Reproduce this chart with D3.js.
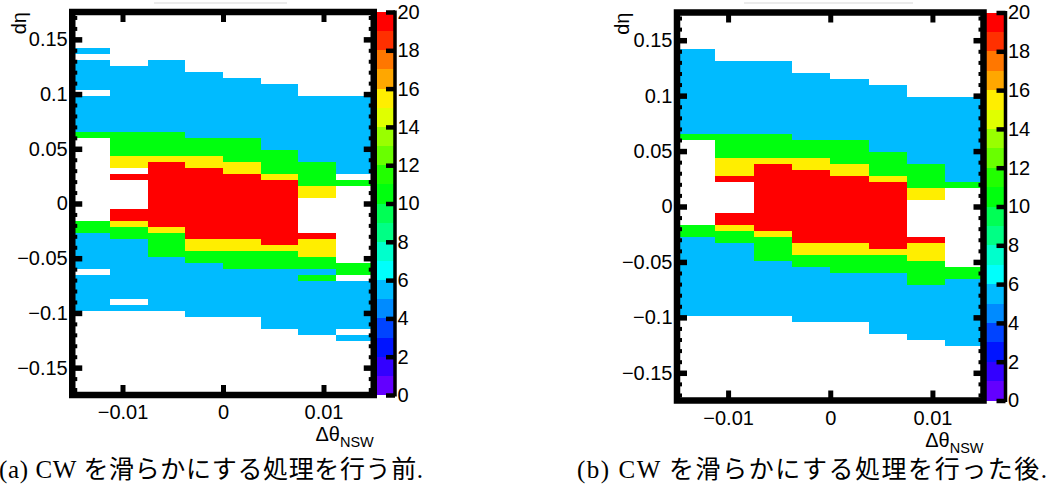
<!DOCTYPE html>
<html>
<head>
<meta charset="utf-8">
<script src="https://cdn.jsdelivr.net/npm/d3@7"></script>
<style>
  body { margin: 0; background: #fff; }
  svg { display: block; }
  .tick text { font-family: "Liberation Sans", Arial, sans-serif; font-size: 20px; fill: #000; }
</style>
</head>
<body>
<svg id="fig" width="1061" height="488"></svg>
<script>
// Δθ_NSW bin edges (8 bins)
const thetaEdges = [-0.015, -0.01125, -0.0075, -0.00375, 0, 0.00375, 0.0075, 0.01125, 0.015];
// dη axis: 64 bins over [-0.175, 0.175]; bin n covers [n*w, (n+1)*w]
const etaMin = -0.175, etaMax = 0.175, etaBins = 64;
// z (CW content) range and number of contour levels
const zMin = 0, zMax = 20, nLevels = 20;

const xTicks = [-0.01, 0, 0.01];
const xTickLabels = ["\u22120.01", "0", "0.01"];
const yTicks = [-0.15, -0.1, -0.05, 0, 0.05, 0.1, 0.15];
const yTickLabels = ["\u22120.15", "\u22120.1", "\u22120.05", "0", "0.05", "0.1", "0.15"];
const yMinorTicks = d3.range(-17, 18).map(v => v / 100);
const zTicks = [0, 2, 4, 6, 8, 10, 12, 14, 16, 18, 20];

// Runs of filled dη bins for each Δθ bin: [firstBin, lastBin, value]
const cwBefore = [
  [[25, 25, 5], [19, 23, 5], [12, 17, 5], [11, 11, 10], [-5, -4, 10], [-11, -6, 5], [-18, -13, 5]],
  [[12, 22, 5], [8, 11, 10], [6, 7, 15], [4, 4, 20], [-3, -2, 20], [-4, -4, 15], [-6, -5, 10], [-16, -7, 5], [-18, -18, 5]],
  [[12, 23, 5], [8, 11, 10], [7, 7, 15], [-4, 6, 20], [-5, -5, 15], [-9, -6, 10], [-18, -10, 5]],
  [[11, 21, 5], [8, 10, 10], [6, 7, 15], [-6, 5, 20], [-8, -7, 15], [-10, -9, 10], [-19, -11, 5]],
  [[11, 20, 5], [7, 10, 10], [5, 6, 15], [-6, 4, 20], [-8, -7, 15], [-11, -9, 10], [-19, -12, 5]],
  [[9, 19, 5], [5, 8, 10], [4, 4, 15], [-7, 3, 20], [-8, -8, 15], [-11, -9, 10], [-21, -12, 5]],
  [[7, 17, 5], [3, 6, 10], [1, 2, 15], [-6, -6, 20], [-9, -7, 15], [-11, -10, 10], [-12, -12, 5], [-13, -13, 10], [-22, -14, 5]],
  [[5, 17, 5], [3, 3, 10], [-12, -11, 10], [-21, -14, 5], [-23, -23, 5]]
];

const cwAfter = [
  [[12, 25, 5], [11, 11, 10], [-5, -4, 10], [-18, -6, 5]],
  [[12, 23, 5], [8, 11, 10], [5, 7, 15], [4, 4, 20], [-3, -2, 20], [-4, -4, 15], [-6, -5, 10], [-18, -7, 5]],
  [[12, 23, 5], [8, 11, 10], [7, 7, 15], [-4, 6, 20], [-5, -5, 15], [-9, -6, 10], [-18, -10, 5]],
  [[11, 21, 5], [8, 10, 10], [6, 7, 15], [-6, 5, 20], [-8, -7, 15], [-10, -9, 10], [-19, -11, 5]],
  [[11, 20, 5], [7, 10, 10], [5, 6, 15], [-6, 4, 20], [-8, -7, 15], [-11, -9, 10], [-19, -12, 5]],
  [[9, 19, 5], [5, 8, 10], [4, 4, 15], [-7, 3, 20], [-8, -8, 15], [-11, -9, 10], [-21, -12, 5]],
  [[7, 17, 5], [3, 6, 10], [1, 2, 15], [-6, -6, 20], [-9, -7, 15], [-13, -10, 10], [-22, -14, 5]],
  [[4, 17, 5], [3, 3, 10], [-12, -11, 10], [-23, -13, 5]]
];

const captions = [
  "(a) CW \u3092\u6ed1\u3089\u304b\u306b\u3059\u308b\u51e6\u7406\u3092\u884c\u3046\u524d.",
  "(b) CW \u3092\u6ed1\u3089\u304b\u306b\u3059\u308b\u51e6\u7406\u3092\u884c\u3063\u305f\u5f8c."
];

// 50-step rainbow palette (violet -> red) sampled at the contour levels
const palette = d3.range(nLevels).map(j => {
  const idx = Math.floor((j + 0.99) * 50 / nLevels);
  return d3.hsl(280 - (idx + 1) * 5.6, 1, 0.5).formatHex();
});
const zColor = d3.scaleQuantize().domain([zMin, zMax]).range(palette);

const svg = d3.select("#fig");
const sansFont = '"Liberation Sans", Arial, sans-serif';

const panels = [
  { runs: cwBefore, caption: captions[0], x0: 72.25, x1: 373.75, yTop: 12, yBot: 395,
    cb0: 375.5, cb1: 395, titleY: 441, etaX: 26, capX: -1, capW: 424, greyA: 154, greyB: 287 },
  { runs: cwAfter, caption: captions[1], x0: 677, x1: 983.5, yTop: 12.5, yBot: 400.5,
    cb0: 986, cb1: 1005.5, titleY: 447, etaX: 629, capX: 577, capW: 470, greyA: 744, greyB: 913 }
];

function styleTicks(sel, width) {
  sel.select(".domain").remove();
  sel.selectAll(".tick line").attr("stroke", "#000").attr("stroke-width", width);
}

panels.forEach(P => {
  const g = svg.append("g");
  const x = d3.scaleLinear().domain([thetaEdges[0], thetaEdges[thetaEdges.length - 1]]).range([P.x0, P.x1]);
  const y = d3.scaleLinear().domain([etaMin, etaMax]).range([P.yBot, P.yTop]);
  const binW = (etaMax - etaMin) / etaBins;

  // faint strip above the pad
  g.append("rect").attr("x", P.greyA).attr("y", 2).attr("width", P.greyB - P.greyA).attr("height", 2)
    .attr("fill", "#ebebeb");

  // cells
  const cells = [];
  P.runs.forEach((col, ci) => col.forEach(([b0, b1, v]) => {
    cells.push({ t0: thetaEdges[ci], t1: thetaEdges[ci + 1], e0: b0 * binW, e1: (b1 + 1) * binW, v });
  }));
  g.append("g").attr("shape-rendering", "crispEdges")
    .selectAll("rect").data(cells).join("rect")
    .attr("x", d => x(d.t0))
    .attr("width", d => x(d.t1) - x(d.t0))
    .attr("y", d => y(d.e1))
    .attr("height", d => y(d.e0) - y(d.e1))
    .attr("fill", d => zColor(d.v));

  // colour bar
  const z = d3.scaleLinear().domain([zMin, zMax]).range([P.yBot, P.yTop]);
  const step = (zMax - zMin) / nLevels;
  const levels = d3.range(nLevels).map(j => zMin + j * step);
  g.append("g").attr("shape-rendering", "crispEdges")
    .selectAll("rect").data(levels).join("rect")
    .attr("x", P.cb0).attr("width", P.cb1 - P.cb0)
    .attr("y", d => z(d + step))
    .attr("height", d => z(d) - z(d + step))
    .attr("fill", d => zColor(d + step / 2));
  const zAxis = g.append("g").attr("transform", `translate(${P.cb1},0)`)
    .call(d3.axisRight(z).tickValues(zTicks).tickFormat(d3.format("d"))
      .tickSizeInner(-9).tickSizeOuter(0).tickPadding(3));
  zAxis.select(".domain").remove();
  zAxis.selectAll(".tick line").attr("stroke", "#000").attr("stroke-width", 4.5);
  zAxis.selectAll(".tick text").attr("x", 2.5);
  g.append("line").attr("x1", P.cb1).attr("x2", P.cb1).attr("y1", P.yTop - 1.5).attr("y2", P.yBot + 1.5)
    .attr("stroke", "#000").attr("stroke-width", 3.5);

  // ticks on all four sides of the frame
  const minorY = yMinorTicks.filter(v => !yTicks.some(t => Math.abs(t - v) < 1e-9));
  g.append("g").attr("transform", `translate(${P.x0},0)`)
    .call(d3.axisLeft(y).tickValues(yTicks).tickFormat((d, i) => yTickLabels[i])
      .tickSizeInner(-10).tickPadding(4.5)).call(s => styleTicks(s, 5.5));
  g.append("g").attr("transform", `translate(${P.x0},0)`)
    .call(d3.axisLeft(y).tickValues(minorY).tickFormat("").tickSizeInner(-5)).call(s => styleTicks(s, 4));
  g.append("g").attr("transform", `translate(${P.x1},0)`)
    .call(d3.axisRight(y).tickValues(yTicks).tickFormat("").tickSizeInner(-10)).call(s => styleTicks(s, 5.5));
  g.append("g").attr("transform", `translate(${P.x1},0)`)
    .call(d3.axisRight(y).tickValues(minorY).tickFormat("").tickSizeInner(-5)).call(s => styleTicks(s, 4));
  g.append("g").attr("transform", `translate(0,${P.yBot})`)
    .call(d3.axisBottom(x).tickValues(xTicks).tickFormat((d, i) => xTickLabels[i])
      .tickSizeInner(-10).tickPadding(10)).call(s => styleTicks(s, 5));
  g.append("g").attr("transform", `translate(0,${P.yTop})`)
    .call(d3.axisTop(x).tickValues(xTicks).tickFormat("").tickSizeInner(-10)).call(s => styleTicks(s, 5));

  // frame
  g.append("rect").attr("x", P.x0).attr("y", P.yTop).attr("width", P.x1 - P.x0).attr("height", P.yBot - P.yTop)
    .attr("fill", "none").attr("stroke", "#000").attr("stroke-width", 6.5);

  // axis titles
  g.append("text").attr("transform", `translate(${P.etaX},${P.yTop}) rotate(-90)`)
    .attr("text-anchor", "end").attr("font-family", sansFont).attr("font-size", 20)
    .text("d\u03b7");
  const xt = g.append("text").attr("x", P.x1).attr("y", P.titleY).attr("text-anchor", "end")
    .attr("font-family", sansFont).attr("font-size", 20);
  xt.append("tspan").text("\u0394\u03b8");
  xt.append("tspan").attr("dy", 6).attr("font-size", 14.5).text("NSW");

  // caption
  g.append("text").attr("x", P.capX).attr("y", 478)
    .attr("font-family", '"Liberation Serif", "Noto Sans CJK JP", serif').attr("font-size", 25)
    .attr("textLength", P.capW).attr("lengthAdjust", "spacing")
    .text(P.caption);
});
</script>
</body>
</html>
